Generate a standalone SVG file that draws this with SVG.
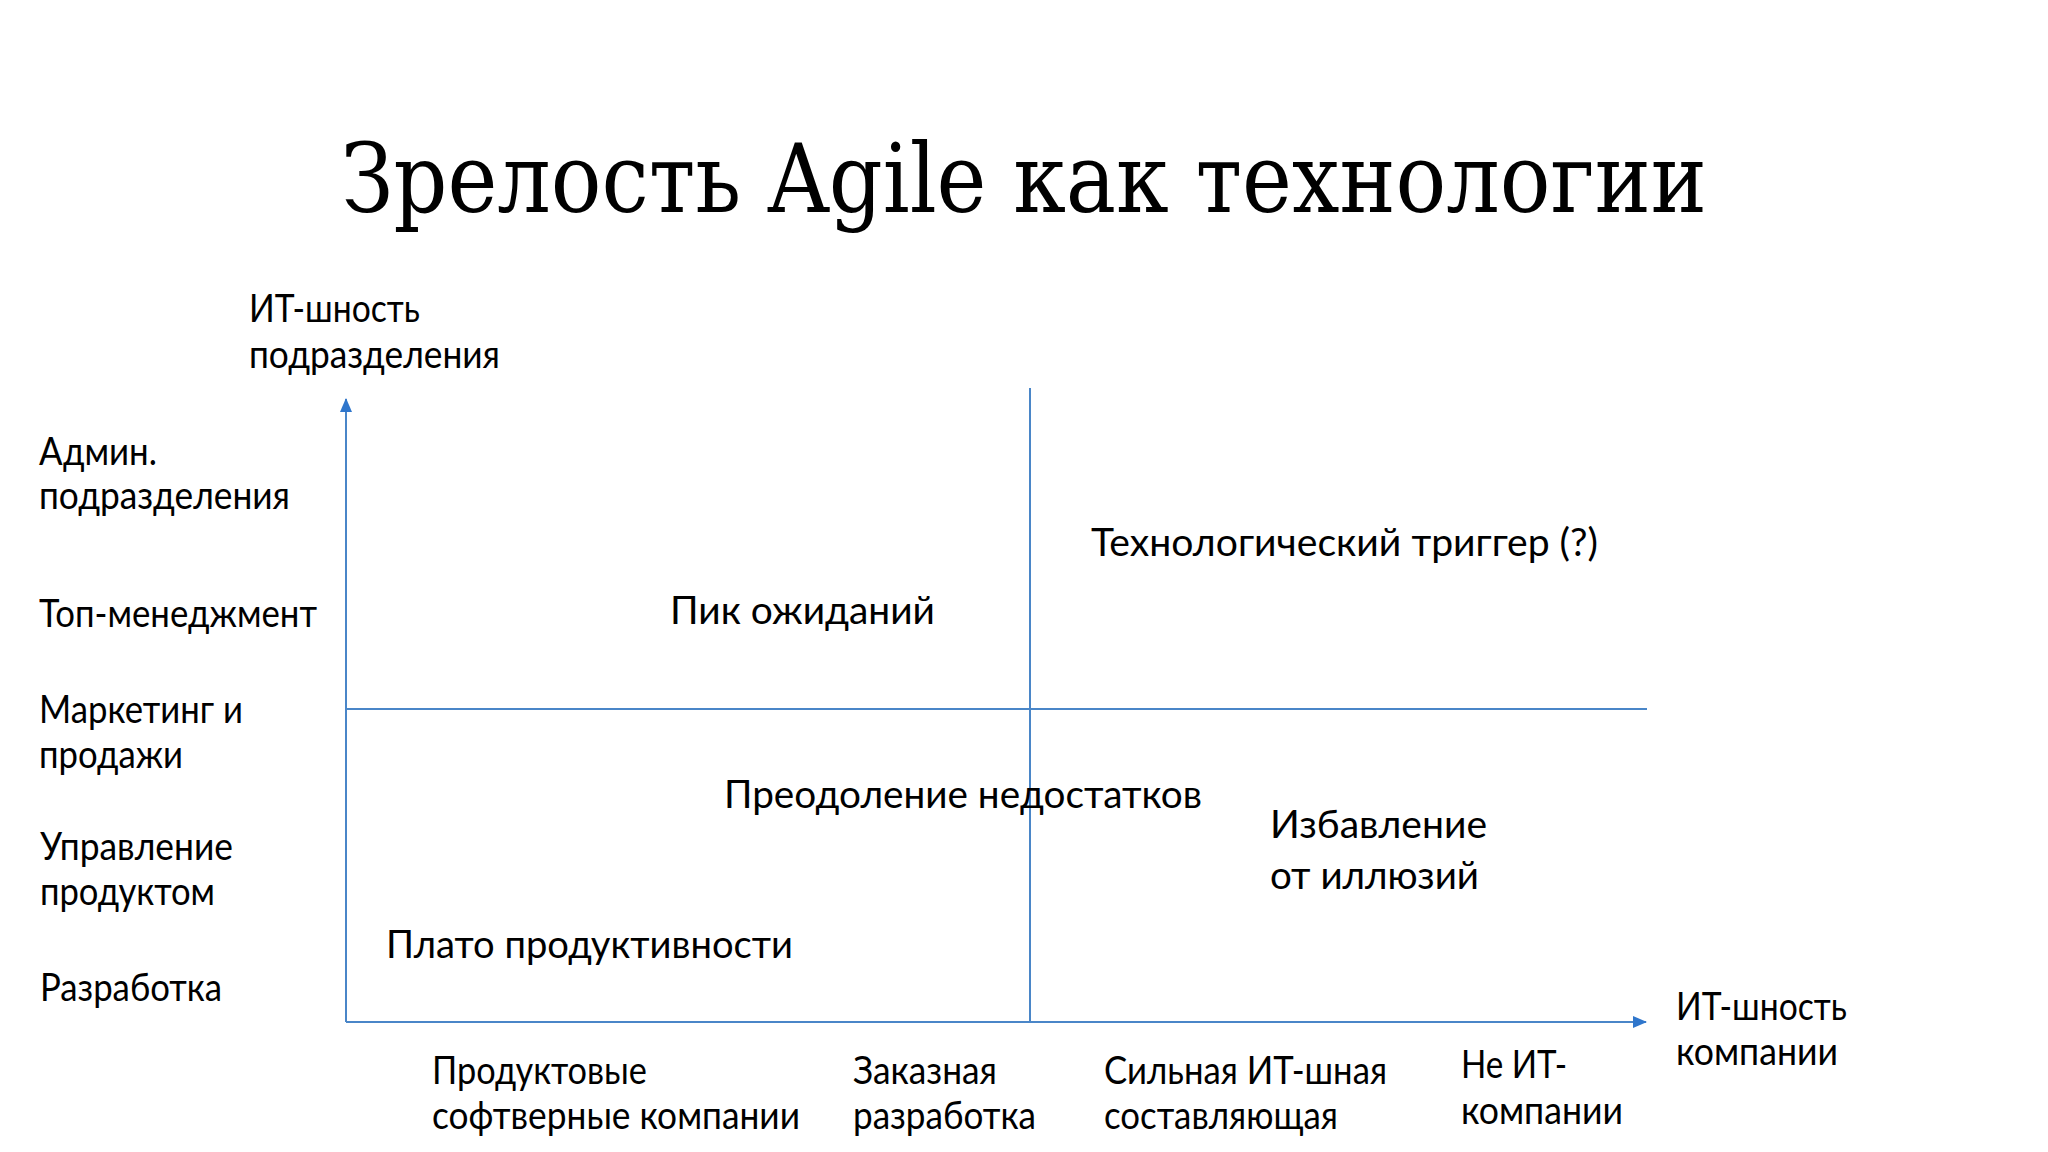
<svg xmlns="http://www.w3.org/2000/svg" width="2048" height="1152" viewBox="0 0 2048 1152">
<style>
.t{font-family:Lato,"Open Sans","Liberation Sans",sans-serif;font-size:38px;fill:#000}
.title{font-family:"DejaVu Serif Condensed","DejaVu Serif",serif;font-size:96px;fill:#000}
.ax{stroke:#4a86c8;stroke-width:2;fill:none}
</style>
<defs>
<marker id="arr" markerWidth="14" markerHeight="12" refX="13" refY="6" orient="auto" markerUnits="userSpaceOnUse">
<path d="M0,0 L14,6 L0,12 Z" fill="#2f76cc"/>
</marker>
</defs>
<rect width="2048" height="1152" fill="#fff"/>
<text class="title" x="341" y="212" textLength="1366" lengthAdjust="spacingAndGlyphs">Зрелость Agile как технологии</text>
<g id="connectors">
<line class="ax" x1="346" y1="1022" x2="346" y2="399" marker-end="url(#arr)"/>
<line class="ax" x1="346" y1="1022" x2="1646" y2="1022" marker-end="url(#arr)"/>
<line class="ax" x1="346" y1="709" x2="1647" y2="709"/>
<line class="ax" x1="1030" y1="388" x2="1030" y2="1022"/>
</g>
<g id="y-axis-label"><text class="t" x="249" y="322" textLength="171" lengthAdjust="spacingAndGlyphs">ИТ-шность</text><text class="t" x="249" y="368" textLength="251" lengthAdjust="spacingAndGlyphs">подразделения</text></g>
<g id="x-axis-label"><text class="t" x="1676" y="1020" textLength="171" lengthAdjust="spacingAndGlyphs">ИТ-шность</text><text class="t" x="1676" y="1065" textLength="162" lengthAdjust="spacingAndGlyphs">компании</text></g>
<g id="row-admin"><text class="t" x="39" y="465" textLength="118" lengthAdjust="spacingAndGlyphs">Админ.</text><text class="t" x="39" y="509" textLength="251" lengthAdjust="spacingAndGlyphs">подразделения</text></g>
<g id="row-top"><text class="t" x="39" y="627" textLength="278" lengthAdjust="spacingAndGlyphs">Топ-менеджмент</text></g>
<g id="row-marketing"><text class="t" x="39" y="723" textLength="204" lengthAdjust="spacingAndGlyphs">Маркетинг и</text><text class="t" x="39" y="768" textLength="144" lengthAdjust="spacingAndGlyphs">продажи</text></g>
<g id="row-product"><text class="t" x="40" y="860" textLength="193" lengthAdjust="spacingAndGlyphs">Управление</text><text class="t" x="40" y="905" textLength="175" lengthAdjust="spacingAndGlyphs">продуктом</text></g>
<g id="row-dev"><text class="t" x="40" y="1001" textLength="182" lengthAdjust="spacingAndGlyphs">Разработка</text></g>
<g id="q-trigger"><text class="t" x="1091" y="556" textLength="507" lengthAdjust="spacingAndGlyphs">Технологический триггер (?)</text></g>
<g id="q-peak"><text class="t" x="670" y="624" textLength="265" lengthAdjust="spacingAndGlyphs">Пик ожиданий</text></g>
<g id="q-overcome"><text class="t" x="724" y="808" textLength="478" lengthAdjust="spacingAndGlyphs">Преодоление недостатков</text></g>
<g id="q-illusions"><text class="t" x="1270" y="838" textLength="217" lengthAdjust="spacingAndGlyphs">Избавление</text><text class="t" x="1270" y="889" textLength="209" lengthAdjust="spacingAndGlyphs">от иллюзий</text></g>
<g id="q-plateau"><text class="t" x="386" y="958" textLength="407" lengthAdjust="spacingAndGlyphs">Плато продуктивности</text></g>
<g id="col-product"><text class="t" x="432" y="1084" textLength="215" lengthAdjust="spacingAndGlyphs">Продуктовые</text><text class="t" x="432" y="1129" textLength="368" lengthAdjust="spacingAndGlyphs">софтверные компании</text></g>
<g id="col-custom"><text class="t" x="853" y="1084" textLength="144" lengthAdjust="spacingAndGlyphs">Заказная</text><text class="t" x="853" y="1129" textLength="183" lengthAdjust="spacingAndGlyphs">разработка</text></g>
<g id="col-strong"><text class="t" x="1104" y="1084" textLength="283" lengthAdjust="spacingAndGlyphs">Сильная ИТ-шная</text><text class="t" x="1104" y="1129" textLength="234" lengthAdjust="spacingAndGlyphs">составляющая</text></g>
<g id="col-nonit"><text class="t" x="1461" y="1078" textLength="106" lengthAdjust="spacingAndGlyphs">Не ИТ-</text><text class="t" x="1461" y="1124" textLength="162" lengthAdjust="spacingAndGlyphs">компании</text></g>
</svg>
